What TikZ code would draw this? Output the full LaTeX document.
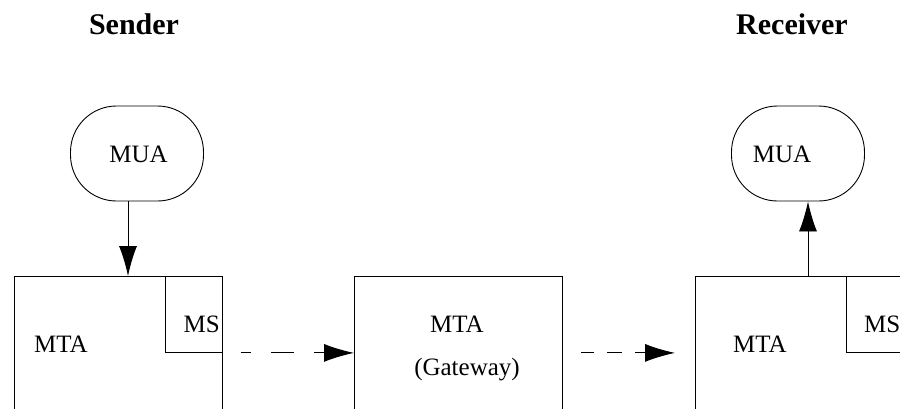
\documentclass[tikz,border=0pt]{standalone}
\usepackage{fontspec}
\setmainfont{Liberation Serif}
\usetikzlibrary{arrows.meta}
\begin{document}
\begin{tikzpicture}[x=1pt,y=-1pt,
  box/.style={draw,line width=0.9pt,inner sep=0pt},
  agent/.style={draw,line width=0.9pt,rounded corners=46pt,minimum width=133pt,minimum height=95pt,inner sep=0pt},
  lbl/.style={inner sep=0pt,font=\fontsize{25}{30}\selectfont},
  side/.style={inner sep=0pt,font=\fontsize{30}{36}\selectfont\bfseries},
  flow/.style={line width=0.9pt,-{Latex[length=30pt,width=18pt]}},
  relay/.style={flow,dash pattern=on 23pt off 20pt,dash phase=13pt}]
 \clip (0,0) rectangle (900,408);
 % headings
 \node[side] (sender) at (134,24) {Sender};
 \node[side] (receiver) at (792,24) {Receiver};
 % user agents
 \node[agent] (sendmua) at (137,153.5) {};
 \node[lbl] at (138.5,154) {MUA};
 \node[agent] (recvmua) at (798,153.5) {};
 \node[lbl] at (782,154) {MUA};
 % transfer agents
 \node[box,minimum width=208pt,minimum height=170pt,anchor=north west] (sendmta) at (14,276) {};
 \node[box,minimum width=57pt,minimum height=76pt,anchor=north east] (sendms) at (sendmta.north east) {};
 \node[lbl] at (61,344) {MTA};
 \node[lbl,anchor=east] at (220,324) {MS};
 \node[box,minimum width=208pt,minimum height=170pt,anchor=north west] (gw) at (354,276) {};
 \node[lbl] at (457,324) {MTA};
 \node[lbl] at (467,370) {(Gateway)};
 \node[box,minimum width=215pt,minimum height=170pt,anchor=north west] (recvmta) at (695,276) {};
 \node[box,minimum width=64pt,minimum height=76pt,anchor=north west] (recvms) at (846,276) {};
 \node[lbl] at (760,344) {MTA};
 \node[lbl,anchor=west] at (864,324) {MS};
 % connectors
 \draw[flow] ([xshift=-9pt]sendmua.south) -- ([xshift=-9pt]sendmua.south |- sendmta.north);
 \draw[flow] ([xshift=10pt]recvmua.south |- recvmta.north) -- ([xshift=10pt]recvmua.south);
 \draw[relay,shorten <=18pt] (sendms.south east) -- (sendms.south -| gw.west);
 \draw[relay,dash pattern=on 15pt off 13pt,dash phase=2pt,shorten <=18pt,shorten >=20pt] (sendms.south -| gw.east) -- (sendms.south -| recvmta.west);
\end{tikzpicture}
\end{document}
